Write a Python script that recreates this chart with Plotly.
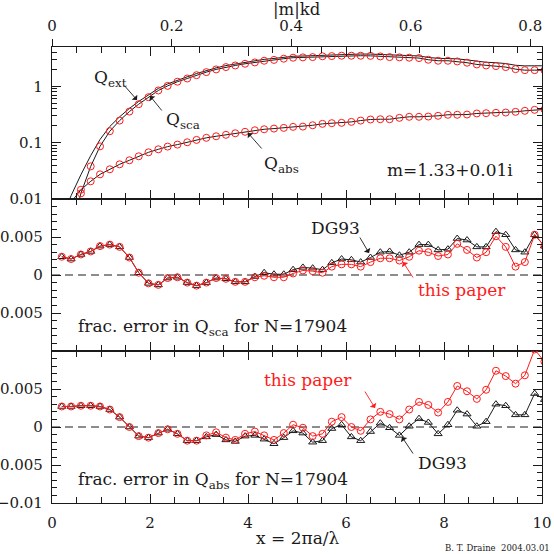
import plotly.graph_objects as go

# ---------------- data ----------------
x_vals = [0.20, 0.39, 0.59, 0.79, 0.98, 1.18, 1.38, 1.58, 1.77, 1.97,
          2.17, 2.36, 2.56, 2.76, 2.95, 3.15, 3.35, 3.55, 3.74, 3.94,
          4.14, 4.33, 4.53, 4.73, 4.92, 5.12, 5.32, 5.52, 5.71, 5.91,
          6.11, 6.30, 6.50, 6.70, 6.89, 7.09, 7.29, 7.49, 7.68, 7.88,
          8.08, 8.27, 8.47, 8.67, 8.86, 9.06, 9.26, 9.46, 9.65, 9.85, 10.05]

q_sca = [0.00017, 0.0027, 0.0126, 0.038, 0.086, 0.160, 0.247, 0.357, 0.483, 0.643,
         0.845, 1.02, 1.21, 1.38, 1.58, 1.79, 2.00, 2.20, 2.35, 2.52,
         2.66, 2.85, 2.95, 3.10, 3.23, 3.27, 3.31, 3.42, 3.45, 3.50,
         3.50, 3.50, 3.48, 3.40, 3.31, 3.27, 3.23, 3.18, 2.97, 2.85,
         2.85, 2.77, 2.63, 2.45, 2.35, 2.29, 2.20, 2.02, 1.94, 1.94, 1.93]

q_abs = [0.0044, 0.0088, 0.0146, 0.0206, 0.0274, 0.0337, 0.0413, 0.0487, 0.0573, 0.0675,
         0.0763, 0.0852, 0.0925, 0.1017, 0.112, 0.122, 0.130, 0.138, 0.147, 0.156,
         0.166, 0.173, 0.178, 0.183, 0.191, 0.193, 0.204, 0.216, 0.222, 0.225,
         0.234, 0.247, 0.258, 0.261, 0.261, 0.276, 0.288, 0.288, 0.291, 0.300,
         0.313, 0.313, 0.316, 0.330, 0.334, 0.339, 0.343, 0.353, 0.368, 0.383, 0.390]

q_ext = [0.0046, 0.0115, 0.027, 0.059, 0.114, 0.194, 0.288, 0.406, 0.540, 0.710,
         0.92, 1.105, 1.30, 1.48, 1.69, 1.91, 2.13, 2.34, 2.50, 2.68,
         2.83, 3.02, 3.13, 3.28, 3.42, 3.46, 3.51, 3.64, 3.67, 3.73,
         3.73, 3.75, 3.74, 3.66, 3.57, 3.55, 3.52, 3.47, 3.26, 3.15,
         3.16, 3.08, 2.95, 2.78, 2.68, 2.63, 2.54, 2.37, 2.31, 2.32, 2.32]

err_sca_dg93 = [0.0024, 0.0021, 0.0027, 0.0031, 0.0038, 0.0040, 0.0037, 0.0023, 0.0003, -0.0011,
                -0.0013, -0.0004, -0.0003, -0.0010, -0.0014, -0.0010, -0.0004, -0.0005, -0.0009, -0.0009,
                -0.0002, 0.0003, 0.0001, 0.0001, 0.0007, 0.0010, 0.0009, 0.0007, 0.0016, 0.0021,
                0.0020, 0.0017, 0.0023, 0.0030, 0.0031, 0.0026, 0.0030, 0.0040, 0.0040, 0.0033,
                0.0034, 0.0048, 0.0046, 0.0037, 0.0037, 0.0057, 0.0053, 0.0033, 0.0030, 0.0053, 0.0038]

err_sca_new = [0.0024, 0.0021, 0.0027, 0.0031, 0.0038, 0.0040, 0.0037, 0.0023, 0.0003, -0.0011,
               -0.0013, -0.0004, -0.0003, -0.0010, -0.0014, -0.0010, -0.0004, -0.0005, -0.0009, -0.0009,
               -0.0003, -0.0001, -0.0003, -0.0003, 0.0002, 0.0006, 0.0005, 0.0003, 0.0011, 0.0014,
               0.0014, 0.0011, 0.0017, 0.0022, 0.0022, 0.0019, 0.0024, 0.0032, 0.0030, 0.0025,
               0.0027, 0.0041, 0.0033, 0.0023, 0.0030, 0.0051, 0.0037, 0.0011, 0.0017, 0.0053, 0.0038]

err_abs_dg93 = [0.0027, 0.0027, 0.0028, 0.0028, 0.0027, 0.0023, 0.0013, 0.0000, -0.0012, -0.0014,
                -0.0008, -0.0003, -0.0009, -0.0018, -0.0018, -0.0013, -0.0010, -0.0017, -0.0019, -0.0012,
                -0.0011, -0.0016, -0.0022, -0.0014, -0.0005, -0.0008, -0.0020, -0.0018, -0.0002, 0.0003,
                -0.0013, -0.0018, -0.0006, 0.0005, -0.0001, -0.0011, 0.0001, 0.0011, 0.0006, -0.0009,
                0.0003, 0.0022, 0.0017, 0.0001, 0.0007, 0.0030, 0.0028, 0.0016, 0.0016, 0.0044, 0.0036]

err_abs_new = [0.0027, 0.0027, 0.0028, 0.0028, 0.0027, 0.0023, 0.0013, 0.0000, -0.0012, -0.0014,
               -0.0008, -0.0003, -0.0009, -0.0018, -0.0018, -0.0011, -0.0007, -0.0014, -0.0017, -0.0009,
               -0.0006, -0.0011, -0.0017, -0.0008, 0.0003, -0.0001, -0.0012, -0.0009, 0.0007, 0.0013,
               0.0000, -0.0005, 0.0010, 0.0020, 0.0017, 0.0010, 0.0023, 0.0033, 0.0029, 0.0019,
               0.0033, 0.0054, 0.0047, 0.0037, 0.0049, 0.0074, 0.0067, 0.0057, 0.0068, 0.0102, 0.0086]

x_ticks = [0, 2, 4, 6, 8, 10]
mkd_ticks = [0, 0.2, 0.4, 0.6, 0.8]
mkd_max = 0.8196
log_tickvals = [0.01, 0.1, 1]
log_ticktext = ["0.01", "0.1", "1"]
err_tickvals = [-0.01, -0.005, 0, 0.005, 0.01]
err_mid_text = ["", "\u22120.005", "0", "0.005", ""]
err_bot_text = ["\u22120.01", "\u22120.005", "0", "0.005", ""]

# ---------------- figure ----------------
FONT = "DejaVu Serif"
INK = "#1a1a1a"
RED = "#ff1a1a"

fig = go.Figure()

# top panel
for arr in (q_ext, q_sca, q_abs):
    fig.add_trace(go.Scatter(x=x_vals, y=arr, mode="lines",
                             line=dict(color=INK, width=1),
                             xaxis="x", yaxis="y", hoverinfo="skip"))
for arr in (q_sca, q_abs):
    fig.add_trace(go.Scatter(x=x_vals, y=arr, mode="markers",
                             marker=dict(symbol="circle-open", size=7, color=RED,
                                         line=dict(width=1)),
                             xaxis="x", yaxis="y", hoverinfo="skip"))

# middle panel
fig.add_trace(go.Scatter(x=x_vals, y=err_sca_dg93, mode="lines+markers",
                         line=dict(color=INK, width=1),
                         marker=dict(symbol="triangle-up-open", size=7, color=INK, line=dict(width=1)),
                         xaxis="x2", yaxis="y2"))
fig.add_trace(go.Scatter(x=x_vals, y=err_sca_new, mode="lines+markers",
                         line=dict(color=RED, width=1),
                         marker=dict(symbol="circle-open", size=7, color=RED, line=dict(width=1)),
                         xaxis="x2", yaxis="y2"))

# bottom panel
fig.add_trace(go.Scatter(x=x_vals, y=err_abs_dg93, mode="lines+markers",
                         line=dict(color=INK, width=1),
                         marker=dict(symbol="triangle-up-open", size=7, color=INK, line=dict(width=1)),
                         xaxis="x3", yaxis="y3"))
fig.add_trace(go.Scatter(x=x_vals, y=err_abs_new, mode="lines+markers",
                         line=dict(color=RED, width=1),
                         marker=dict(symbol="circle-open", size=7, color=RED, line=dict(width=1)),
                         xaxis="x3", yaxis="y3"))

# invisible anchor trace for the top (|m|kd) axis
fig.add_trace(go.Scatter(x=[0], y=[1], mode="markers", marker=dict(opacity=0),
                         xaxis="x4", yaxis="y", hoverinfo="skip"))

tickfont = dict(family=FONT, size=15, color=INK)

def xaxis(anchor, labels):
    return dict(range=[0, 10], anchor=anchor, tickmode="array", tickvals=x_ticks,
                ticks="inside", ticklen=9, tickwidth=1, tickcolor=INK,
                showline=True, linecolor=INK, linewidth=1.2, mirror="ticks",
                showgrid=False, zeroline=False, showticklabels=labels,
                tickfont=tickfont, ticklabelstandoff=6, automargin=False,
                minor=dict(ticks="inside", tickmode="linear", tick0=0, dtick=0.5,
                           ticklen=6, tickwidth=1, tickcolor=INK, showgrid=False))

def yerr(domain, texts):
    return dict(range=[-0.01, 0.01], domain=domain, tickmode="array",
                tickvals=err_tickvals, ticktext=texts,
                ticks="inside", ticklen=9, tickwidth=1, tickcolor=INK,
                showline=True, linecolor=INK, linewidth=1.2, mirror="ticks",
                showgrid=False, zeroline=False, tickfont=tickfont, ticklabelstandoff=5,
                automargin=False,
                minor=dict(ticks="inside", tickmode="linear", tick0=0, dtick=0.001,
                           ticklen=5, tickwidth=1, tickcolor=INK, showgrid=False))

minor_log = [m * d for d in (0.01, 0.1, 1) for m in range(2, 10)]

fig.update_layout(
    width=554, height=554,
    margin=dict(l=52, r=12, t=47, b=51, autoexpand=False),
    paper_bgcolor="white", plot_bgcolor="white",
    showlegend=False,
    font=dict(family=FONT, color=INK),
    xaxis=xaxis("y", False),
    xaxis2=xaxis("y2", False),
    xaxis3=xaxis("y3", True),
    xaxis4=dict(overlaying="x", side="top", anchor="y", range=[0, mkd_max],
                tickmode="array", tickvals=mkd_ticks, ticks="outside", ticklen=7,
                tickwidth=1, tickcolor=INK, showline=False, showgrid=False,
                zeroline=False, tickfont=tickfont, ticklabelstandoff=2, automargin=False),
    yaxis=dict(type="log", range=[-2, 0.699], domain=[2 / 3, 1], anchor="x",
               tickmode="array", tickvals=log_tickvals, ticktext=log_ticktext,
               ticks="inside", ticklen=9, tickwidth=1, tickcolor=INK,
               showline=True, linecolor=INK, linewidth=1.2, mirror="ticks",
               showgrid=False, zeroline=False, tickfont=tickfont, ticklabelstandoff=5,
               automargin=False,
               minor=dict(ticks="inside", tickmode="array", tickvals=minor_log,
                          ticklen=5, tickwidth=1, tickcolor=INK, showgrid=False)),
    yaxis2=dict(yerr([1 / 3, 2 / 3], err_mid_text), anchor="x2"),
    yaxis3=dict(yerr([0, 1 / 3], err_bot_text), anchor="x3"),
)

# dashed zero lines
for xr, yr in (("x2", "y2"), ("x3", "y3")):
    fig.add_shape(type="line", xref=xr, yref=yr, x0=0, x1=10, y0=0, y1=0,
                  line=dict(color=INK, width=1, dash="8px,5px"), layer="below")

# annotation helpers (pixel -> paper)
def PX(px):
    return (px - 52) / 490.0

def PY(py):
    return (503 - py) / 456.0

def text(px, py, s, color=INK, size=17, xanchor="left"):
    fig.add_annotation(x=PX(px), y=PY(py), xref="paper", yref="paper", text=s,
                       showarrow=False, xanchor=xanchor, yanchor="middle",
                       font=dict(family=FONT, size=size, color=color))

def arrow(tail, tip, color=INK):
    fig.add_annotation(x=PX(tip[0]), y=PY(tip[1]), xref="paper", yref="paper", text="",
                       showarrow=True, ax=tail[0] - tip[0], ay=tail[1] - tip[1],
                       arrowhead=1, arrowsize=1.4, arrowwidth=0.9, arrowcolor=color,
                       standoff=0, startstandoff=0)

# top panel labels
text(92, 78, "Q<sub>ext</sub>")
arrow((123, 84), (137, 100))
text(164, 121, "Q<sub>sca</sub>")
arrow((163, 112), (150, 96))
text(262, 164, "Q<sub>abs</sub>")
arrow((263, 150), (248, 133))
text(385, 170, "m=1.33+0.01i")

# middle panel labels
text(309, 228, "DG93")
arrow((359, 236), (369, 253))
text(416, 290, "this paper", color=RED)
arrow((414, 279), (403, 262), color=RED)
text(76, 327, "frac. error in Q<sub>sca</sub> for N=17904")

# bottom panel labels
text(262, 380, "this paper", color=RED)
arrow((364, 390), (375, 408), color=RED)
text(416, 463, "DG93")
arrow((414, 455), (402, 437))
text(76, 480, "frac. error in Q<sub>abs</sub> for N=17904")

# axis titles and credit
text(297, 10, "|m|kd", xanchor="center", size=16.5)
text(297, 538, "x = 2\u03c0a/\u03bb", xanchor="center")
text(552, 548, "B. T. Draine  2004.03.01", size=8.5, xanchor="right")

fig.write_html("out.html",
               config={"displayModeBar": False},
               post_script="document.body.style.margin='0px';"
                           "document.body.style.overflow='hidden';")
